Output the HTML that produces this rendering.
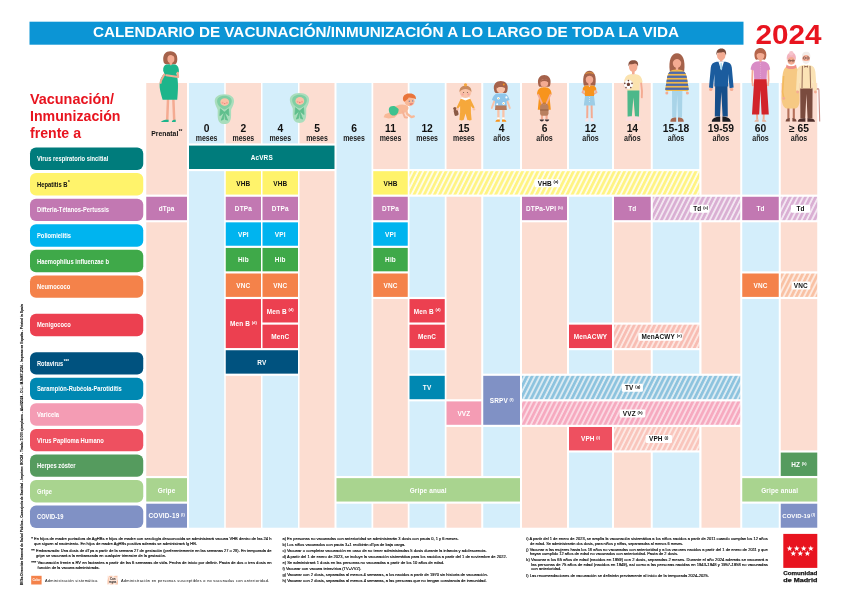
<!DOCTYPE html>
<html lang="es"><head><meta charset="utf-8"><title>Calendario de vacunación 2024</title>
<style>html,body{margin:0;padding:0;background:#fff}body{width:848px;height:604px;overflow:hidden}svg{display:block}text{font-family:"Liberation Sans", Arial, sans-serif}</style></head><body>
<svg width="848" height="604" viewBox="0 0 848 604">
<defs>
<pattern id="h_yellow" width="4.56" height="8" patternUnits="userSpaceOnUse" patternTransform="rotate(26.6)"><rect width="4.56" height="8" fill="#fffde8"/><rect width="2.65" height="8" fill="#fff482"/></pattern>
<pattern id="h_purple" width="4.56" height="8" patternUnits="userSpaceOnUse" patternTransform="rotate(26.6)"><rect width="4.56" height="8" fill="#f3e6f1"/><rect width="2.65" height="8" fill="#d9aed3"/></pattern>
<pattern id="h_orange" width="4.56" height="8" patternUnits="userSpaceOnUse" patternTransform="rotate(26.6)"><rect width="4.56" height="8" fill="#fde9df"/><rect width="2.65" height="8" fill="#f9c1a3"/></pattern>
<pattern id="h_red" width="4.56" height="8" patternUnits="userSpaceOnUse" patternTransform="rotate(26.6)"><rect width="4.56" height="8" fill="#fde6e0"/><rect width="2.65" height="8" fill="#f8bdb3"/></pattern>
<pattern id="h_tblue" width="4.56" height="8" patternUnits="userSpaceOnUse" patternTransform="rotate(26.6)"><rect width="4.56" height="8" fill="#dcebf3"/><rect width="2.65" height="8" fill="#8cc3de"/></pattern>
<pattern id="h_pink" width="4.56" height="8" patternUnits="userSpaceOnUse" patternTransform="rotate(26.6)"><rect width="4.56" height="8" fill="#fbd9e3"/><rect width="2.65" height="8" fill="#f6a9bf"/></pattern>
<pattern id="h_red2" width="4.56" height="8" patternUnits="userSpaceOnUse" patternTransform="rotate(26.6)"><rect width="4.56" height="8" fill="#fde9e4"/><rect width="2.65" height="8" fill="#f9c5bc"/></pattern>
</defs>
<rect width="848" height="604" fill="#fff"/>
<rect x="29.5" y="21.7" width="714" height="23" fill="#0c95d5"/>
<text x="386" y="37.45" font-size="14.8" font-weight="700" fill="#fff" text-anchor="middle" textLength="586" lengthAdjust="spacingAndGlyphs">CALENDARIO DE VACUNACIÓN/INMUNIZACIÓN A LO LARGO DE TODA LA VIDA</text>
<text x="755.5" y="44.2" font-size="28.4" font-weight="700" fill="#e8141f" textLength="66" lengthAdjust="spacingAndGlyphs">2024</text>
<text x="30" y="104.4" font-size="14.4" font-weight="700" fill="#e8141f" textLength="84" lengthAdjust="spacingAndGlyphs">Vacunación/</text>
<text x="30" y="121.4" font-size="14.4" font-weight="700" fill="#e8141f" textLength="90.5" lengthAdjust="spacingAndGlyphs">Inmunización</text>
<text x="30" y="138.4" font-size="14.4" font-weight="700" fill="#e8141f" textLength="51" lengthAdjust="spacingAndGlyphs">frente a</text>
<rect x="146.25" y="83.00" width="40.75" height="444.72" fill="#fcddd1"/>
<rect x="189.00" y="83.00" width="35.25" height="444.72" fill="#d4eefb"/>
<rect x="225.75" y="83.00" width="35.25" height="444.72" fill="#fcddd1"/>
<rect x="262.50" y="83.00" width="35.50" height="444.72" fill="#d4eefb"/>
<rect x="299.50" y="83.00" width="35.00" height="444.72" fill="#fcddd1"/>
<rect x="336.50" y="83.00" width="35.00" height="444.72" fill="#d4eefb"/>
<rect x="373.25" y="83.00" width="34.50" height="444.72" fill="#fcddd1"/>
<rect x="409.50" y="83.00" width="35.25" height="444.72" fill="#d4eefb"/>
<rect x="446.50" y="83.00" width="34.75" height="444.72" fill="#fcddd1"/>
<rect x="483.25" y="83.00" width="36.75" height="444.72" fill="#d4eefb"/>
<rect x="522.00" y="83.00" width="45.00" height="444.72" fill="#fcddd1"/>
<rect x="569.00" y="83.00" width="43.00" height="444.72" fill="#d4eefb"/>
<rect x="614.00" y="83.00" width="36.75" height="444.72" fill="#fcddd1"/>
<rect x="652.75" y="83.00" width="46.50" height="444.72" fill="#d4eefb"/>
<rect x="701.50" y="83.00" width="38.75" height="444.72" fill="#fcddd1"/>
<rect x="742.25" y="83.00" width="36.50" height="444.72" fill="#d4eefb"/>
<rect x="780.75" y="83.00" width="36.50" height="444.72" fill="#fcddd1"/>
<rect x="188.10" y="143.45" width="147.30" height="27.70" fill="#fff"/>
<rect x="224.85" y="169.03" width="37.05" height="27.70" fill="#fff"/>
<rect x="261.60" y="169.03" width="37.30" height="27.70" fill="#fff"/>
<rect x="372.35" y="169.03" width="36.30" height="27.70" fill="#fff"/>
<rect x="145.35" y="194.61" width="42.55" height="27.70" fill="#fff"/>
<rect x="224.85" y="194.61" width="37.05" height="27.70" fill="#fff"/>
<rect x="261.60" y="194.61" width="37.30" height="27.70" fill="#fff"/>
<rect x="372.35" y="194.61" width="36.30" height="27.70" fill="#fff"/>
<rect x="521.10" y="194.61" width="46.80" height="27.70" fill="#fff"/>
<rect x="613.10" y="194.61" width="38.55" height="27.70" fill="#fff"/>
<rect x="741.35" y="194.61" width="38.30" height="27.70" fill="#fff"/>
<rect x="224.85" y="220.19" width="37.05" height="27.70" fill="#fff"/>
<rect x="261.60" y="220.19" width="37.30" height="27.70" fill="#fff"/>
<rect x="372.35" y="220.19" width="36.30" height="27.70" fill="#fff"/>
<rect x="224.85" y="245.77" width="37.05" height="27.70" fill="#fff"/>
<rect x="261.60" y="245.77" width="37.30" height="27.70" fill="#fff"/>
<rect x="372.35" y="245.77" width="36.30" height="27.70" fill="#fff"/>
<rect x="224.85" y="271.35" width="37.05" height="27.70" fill="#fff"/>
<rect x="261.60" y="271.35" width="37.30" height="27.70" fill="#fff"/>
<rect x="372.35" y="271.35" width="36.30" height="27.70" fill="#fff"/>
<rect x="741.35" y="271.35" width="38.30" height="27.70" fill="#fff"/>
<rect x="224.85" y="296.93" width="37.05" height="53.28" fill="#fff"/>
<rect x="261.60" y="296.93" width="37.30" height="27.70" fill="#fff"/>
<rect x="261.60" y="322.51" width="37.30" height="27.70" fill="#fff"/>
<rect x="408.60" y="296.93" width="37.05" height="27.70" fill="#fff"/>
<rect x="408.60" y="322.51" width="37.05" height="27.70" fill="#fff"/>
<rect x="568.10" y="322.51" width="44.80" height="27.70" fill="#fff"/>
<rect x="224.85" y="348.09" width="74.05" height="27.70" fill="#fff"/>
<rect x="408.60" y="373.67" width="37.05" height="27.70" fill="#fff"/>
<rect x="482.35" y="373.67" width="38.55" height="53.28" fill="#fff"/>
<rect x="445.60" y="399.25" width="36.55" height="27.70" fill="#fff"/>
<rect x="568.10" y="424.83" width="44.80" height="27.70" fill="#fff"/>
<rect x="779.85" y="450.41" width="38.30" height="27.70" fill="#fff"/>
<rect x="145.35" y="475.99" width="42.55" height="27.70" fill="#fff"/>
<rect x="335.60" y="475.99" width="185.30" height="27.70" fill="#fff"/>
<rect x="741.35" y="475.99" width="76.80" height="27.70" fill="#fff"/>
<rect x="145.35" y="501.57" width="42.55" height="27.70" fill="#fff"/>
<rect x="779.85" y="501.57" width="38.30" height="27.70" fill="#fff"/>
<rect x="408.60" y="169.03" width="291.55" height="27.70" fill="#fff"/>
<rect x="651.85" y="194.61" width="89.30" height="27.70" fill="#fff"/>
<rect x="779.85" y="194.61" width="38.30" height="27.70" fill="#fff"/>
<rect x="779.85" y="271.35" width="38.30" height="27.70" fill="#fff"/>
<rect x="613.10" y="322.51" width="87.05" height="27.70" fill="#fff"/>
<rect x="521.10" y="373.67" width="220.05" height="27.70" fill="#fff"/>
<rect x="521.10" y="399.25" width="220.05" height="27.70" fill="#fff"/>
<rect x="613.10" y="424.83" width="87.05" height="27.70" fill="#fff"/>
<rect x="189.00" y="145.60" width="145.50" height="23.40" fill="#007c7c"/>
<text x="261.75" y="160.02" font-size="6.45" font-weight="700" fill="#fff" text-anchor="middle" letter-spacing="0.15">AcVRS</text>
<rect x="225.75" y="171.18" width="35.25" height="23.40" fill="#fff36b"/>
<text x="243.38" y="185.60" font-size="6.45" font-weight="700" fill="#111" text-anchor="middle" letter-spacing="0.15">VHB</text>
<rect x="262.50" y="171.18" width="35.50" height="23.40" fill="#fff36b"/>
<text x="280.25" y="185.60" font-size="6.45" font-weight="700" fill="#111" text-anchor="middle" letter-spacing="0.15">VHB</text>
<rect x="373.25" y="171.18" width="34.50" height="23.40" fill="#fff36b"/>
<text x="390.50" y="185.60" font-size="6.45" font-weight="700" fill="#111" text-anchor="middle" letter-spacing="0.15">VHB</text>
<rect x="146.25" y="196.76" width="40.75" height="23.40" fill="#c278b2"/>
<text x="166.62" y="211.18" font-size="6.45" font-weight="700" fill="#fff" text-anchor="middle" letter-spacing="0.15">dTpa</text>
<rect x="225.75" y="196.76" width="35.25" height="23.40" fill="#c278b2"/>
<text x="243.38" y="211.18" font-size="6.45" font-weight="700" fill="#fff" text-anchor="middle" letter-spacing="0.15">DTPa</text>
<rect x="262.50" y="196.76" width="35.50" height="23.40" fill="#c278b2"/>
<text x="280.25" y="211.18" font-size="6.45" font-weight="700" fill="#fff" text-anchor="middle" letter-spacing="0.15">DTPa</text>
<rect x="373.25" y="196.76" width="34.50" height="23.40" fill="#c278b2"/>
<text x="390.50" y="211.18" font-size="6.45" font-weight="700" fill="#fff" text-anchor="middle" letter-spacing="0.15">DTPa</text>
<rect x="522.00" y="196.76" width="45.00" height="23.40" fill="#c278b2"/>
<text x="544.50" y="211.18" font-size="6.45" font-weight="700" fill="#fff" text-anchor="middle" letter-spacing="0.15">DTPa-VPI<tspan font-size="4" dy="-2.1" dx="1.6" letter-spacing="0">(b)</tspan></text>
<rect x="614.00" y="196.76" width="36.75" height="23.40" fill="#c278b2"/>
<text x="632.38" y="211.18" font-size="6.45" font-weight="700" fill="#fff" text-anchor="middle" letter-spacing="0.15">Td</text>
<rect x="742.25" y="196.76" width="36.50" height="23.40" fill="#c278b2"/>
<text x="760.50" y="211.18" font-size="6.45" font-weight="700" fill="#fff" text-anchor="middle" letter-spacing="0.15">Td</text>
<rect x="225.75" y="222.34" width="35.25" height="23.40" fill="#00b4ef"/>
<text x="243.38" y="236.76" font-size="6.45" font-weight="700" fill="#fff" text-anchor="middle" letter-spacing="0.15">VPI</text>
<rect x="262.50" y="222.34" width="35.50" height="23.40" fill="#00b4ef"/>
<text x="280.25" y="236.76" font-size="6.45" font-weight="700" fill="#fff" text-anchor="middle" letter-spacing="0.15">VPI</text>
<rect x="373.25" y="222.34" width="34.50" height="23.40" fill="#00b4ef"/>
<text x="390.50" y="236.76" font-size="6.45" font-weight="700" fill="#fff" text-anchor="middle" letter-spacing="0.15">VPI</text>
<rect x="225.75" y="247.92" width="35.25" height="23.40" fill="#3fa949"/>
<text x="243.38" y="262.34" font-size="6.45" font-weight="700" fill="#fff" text-anchor="middle" letter-spacing="0.15">Hib</text>
<rect x="262.50" y="247.92" width="35.50" height="23.40" fill="#3fa949"/>
<text x="280.25" y="262.34" font-size="6.45" font-weight="700" fill="#fff" text-anchor="middle" letter-spacing="0.15">Hib</text>
<rect x="373.25" y="247.92" width="34.50" height="23.40" fill="#3fa949"/>
<text x="390.50" y="262.34" font-size="6.45" font-weight="700" fill="#fff" text-anchor="middle" letter-spacing="0.15">Hib</text>
<rect x="225.75" y="273.50" width="35.25" height="23.40" fill="#f4824a"/>
<text x="243.38" y="287.92" font-size="6.45" font-weight="700" fill="#fff" text-anchor="middle" letter-spacing="0.15">VNC</text>
<rect x="262.50" y="273.50" width="35.50" height="23.40" fill="#f4824a"/>
<text x="280.25" y="287.92" font-size="6.45" font-weight="700" fill="#fff" text-anchor="middle" letter-spacing="0.15">VNC</text>
<rect x="373.25" y="273.50" width="34.50" height="23.40" fill="#f4824a"/>
<text x="390.50" y="287.92" font-size="6.45" font-weight="700" fill="#fff" text-anchor="middle" letter-spacing="0.15">VNC</text>
<rect x="742.25" y="273.50" width="36.50" height="23.40" fill="#f4824a"/>
<text x="760.50" y="287.92" font-size="6.45" font-weight="700" fill="#fff" text-anchor="middle" letter-spacing="0.15">VNC</text>
<rect x="225.75" y="299.08" width="35.25" height="48.98" fill="#ec4050"/>
<text x="243.38" y="326.29" font-size="6.45" font-weight="700" fill="#fff" text-anchor="middle" letter-spacing="0.15">Men B<tspan font-size="4" dy="-2.1" dx="1.6" letter-spacing="0">(d)</tspan></text>
<rect x="262.50" y="299.08" width="35.50" height="23.40" fill="#ec4050"/>
<text x="280.25" y="313.50" font-size="6.45" font-weight="700" fill="#fff" text-anchor="middle" letter-spacing="0.15">Men B<tspan font-size="4" dy="-2.1" dx="1.6" letter-spacing="0">(d)</tspan></text>
<rect x="262.50" y="324.66" width="35.50" height="23.40" fill="#ec4050"/>
<text x="280.25" y="339.08" font-size="6.45" font-weight="700" fill="#fff" text-anchor="middle" letter-spacing="0.15">MenC</text>
<rect x="409.50" y="299.08" width="35.25" height="23.40" fill="#ec4050"/>
<text x="427.12" y="313.50" font-size="6.45" font-weight="700" fill="#fff" text-anchor="middle" letter-spacing="0.15">Men B<tspan font-size="4" dy="-2.1" dx="1.6" letter-spacing="0">(d)</tspan></text>
<rect x="409.50" y="324.66" width="35.25" height="23.40" fill="#ec4050"/>
<text x="427.12" y="339.08" font-size="6.45" font-weight="700" fill="#fff" text-anchor="middle" letter-spacing="0.15">MenC</text>
<rect x="569.00" y="324.66" width="43.00" height="23.40" fill="#ec4050"/>
<text x="590.50" y="339.08" font-size="6.45" font-weight="700" fill="#fff" text-anchor="middle" letter-spacing="0.15">MenACWY</text>
<rect x="225.75" y="350.24" width="72.25" height="23.40" fill="#00527f"/>
<text x="261.88" y="364.66" font-size="6.45" font-weight="700" fill="#fff" text-anchor="middle" letter-spacing="0.15">RV</text>
<rect x="409.50" y="375.82" width="35.25" height="23.40" fill="#0088b2"/>
<text x="427.12" y="390.24" font-size="6.45" font-weight="700" fill="#fff" text-anchor="middle" letter-spacing="0.15">TV</text>
<rect x="483.25" y="375.82" width="36.75" height="48.98" fill="#8091c5"/>
<text x="501.62" y="403.03" font-size="6.45" font-weight="700" fill="#fff" text-anchor="middle" letter-spacing="0.15">SRPV<tspan font-size="4" dy="-2.1" dx="1.6" letter-spacing="0">(f)</tspan></text>
<rect x="446.50" y="401.40" width="34.75" height="23.40" fill="#f49cb4"/>
<text x="463.88" y="415.82" font-size="6.45" font-weight="700" fill="#fff" text-anchor="middle" letter-spacing="0.15">VVZ</text>
<rect x="569.00" y="426.98" width="43.00" height="23.40" fill="#ee5060"/>
<text x="590.50" y="441.40" font-size="6.45" font-weight="700" fill="#fff" text-anchor="middle" letter-spacing="0.15">VPH<tspan font-size="4" dy="-2.1" dx="1.6" letter-spacing="0">(i)</tspan></text>
<rect x="780.75" y="452.56" width="36.50" height="23.40" fill="#559b5e"/>
<text x="799.00" y="466.98" font-size="6.45" font-weight="700" fill="#fff" text-anchor="middle" letter-spacing="0.15">HZ<tspan font-size="4" dy="-2.1" dx="1.6" letter-spacing="0">(k)</tspan></text>
<rect x="146.25" y="478.14" width="40.75" height="23.40" fill="#a9d48f"/>
<text x="166.62" y="492.56" font-size="6.45" font-weight="700" fill="#fff" text-anchor="middle" letter-spacing="0.15">Gripe</text>
<rect x="336.50" y="478.14" width="183.50" height="23.40" fill="#a9d48f"/>
<text x="428.25" y="492.56" font-size="6.45" font-weight="700" fill="#fff" text-anchor="middle" letter-spacing="0.15">Gripe anual</text>
<rect x="742.25" y="478.14" width="75.00" height="23.40" fill="#a9d48f"/>
<text x="779.75" y="492.56" font-size="6.45" font-weight="700" fill="#fff" text-anchor="middle" letter-spacing="0.15">Gripe anual</text>
<rect x="146.25" y="503.72" width="40.75" height="24.00" fill="#8091c5"/>
<text x="166.62" y="518.44" font-size="6.45" font-weight="700" fill="#fff" text-anchor="middle" letter-spacing="0.15">COVID-19<tspan font-size="4" dy="-2.1" dx="1.6" letter-spacing="0">(l)</tspan></text>
<rect x="780.75" y="503.72" width="36.50" height="24.00" fill="#8091c5"/>
<text x="798.70" y="518.28" font-size="6.00" font-weight="700" fill="#fff" text-anchor="middle" letter-spacing="0.05">COVID-19<tspan font-size="4" dy="-2.1" dx="1.0" letter-spacing="0">(l)</tspan></text>
<rect x="409.50" y="171.18" width="289.75" height="23.40" fill="url(#h_yellow)"/>
<rect x="534.50" y="179.18" width="25.50" height="8" rx="1.3" fill="#fff"/>
<text x="537.70" y="185.50" font-size="6.45" font-weight="700" fill="#111" letter-spacing="0.15">VHB<tspan font-size="4" dy="-2.1" dx="1.8" letter-spacing="0">(a)</tspan></text>
<rect x="652.75" y="196.76" width="87.50" height="23.40" fill="url(#h_purple)"/>
<rect x="690.00" y="204.76" width="19.00" height="8" rx="1.3" fill="#fff"/>
<text x="693.20" y="211.08" font-size="6.45" font-weight="700" fill="#111" letter-spacing="0.15">Td<tspan font-size="4" dy="-2.1" dx="1.8" letter-spacing="0">(c)</tspan></text>
<rect x="780.75" y="196.76" width="36.50" height="23.40" fill="url(#h_purple)"/>
<rect x="791.00" y="204.76" width="19.25" height="8" rx="1.3" fill="#fff"/>
<text x="800.62" y="211.08" font-size="6.45" font-weight="700" fill="#111" text-anchor="middle" letter-spacing="0.15">Td</text>
<rect x="780.75" y="273.50" width="36.50" height="23.40" fill="url(#h_orange)"/>
<rect x="791.50" y="281.50" width="18.75" height="8" rx="1.3" fill="#fff"/>
<text x="800.88" y="287.82" font-size="6.45" font-weight="700" fill="#111" text-anchor="middle" letter-spacing="0.15">VNC</text>
<rect x="614.00" y="324.66" width="85.25" height="23.40" fill="url(#h_red)"/>
<rect x="638.25" y="332.66" width="44.25" height="8" rx="1.3" fill="#fff"/>
<text x="641.45" y="338.98" font-size="6.45" font-weight="700" fill="#111" letter-spacing="0.15">MenACWY<tspan font-size="4" dy="-2.1" dx="1.8" letter-spacing="0">(e)</tspan></text>
<rect x="522.00" y="375.82" width="218.25" height="23.40" fill="url(#h_tblue)"/>
<rect x="621.80" y="383.82" width="21.10" height="8" rx="1.3" fill="#fff"/>
<text x="625.00" y="390.14" font-size="6.45" font-weight="700" fill="#111" letter-spacing="0.15">TV<tspan font-size="4" dy="-2.1" dx="1.8" letter-spacing="0">(g)</tspan></text>
<rect x="522.00" y="401.40" width="218.25" height="23.40" fill="url(#h_pink)"/>
<rect x="619.60" y="409.40" width="25.80" height="8" rx="1.3" fill="#fff"/>
<text x="622.80" y="415.72" font-size="6.45" font-weight="700" fill="#111" letter-spacing="0.15">VVZ<tspan font-size="4" dy="-2.1" dx="1.8" letter-spacing="0">(h)</tspan></text>
<rect x="614.00" y="426.98" width="85.25" height="23.40" fill="url(#h_red2)"/>
<rect x="645.75" y="434.98" width="26.25" height="8" rx="1.3" fill="#fff"/>
<text x="648.95" y="441.30" font-size="6.45" font-weight="700" fill="#111" letter-spacing="0.15">VPH<tspan font-size="4" dy="-2.1" dx="1.8" letter-spacing="0">(j)</tspan></text>
<rect x="30" y="147.50" width="113.25" height="22.4" rx="6" fill="#007c7c"/>
<text x="37" y="161.20" font-size="7.7" font-weight="700" fill="#fff" textLength="71.25" lengthAdjust="spacingAndGlyphs">Virus respiratorio sincitial</text>
<rect x="30" y="173.08" width="113.25" height="22.4" rx="6" fill="#fff36b"/>
<text x="37" y="186.78" font-size="7.7" font-weight="700" fill="#111" textLength="30.5" lengthAdjust="spacingAndGlyphs">Hepatitis B</text>
<text x="67.90" y="184.08" font-size="4.5" font-weight="700" fill="#111">*</text>
<rect x="30" y="198.66" width="113.25" height="22.4" rx="6" fill="#c278b2"/>
<text x="37" y="212.36" font-size="7.7" font-weight="700" fill="#fff" textLength="72" lengthAdjust="spacingAndGlyphs">Difteria-Tétanos-Pertussis</text>
<rect x="30" y="224.24" width="113.25" height="22.4" rx="6" fill="#00b4ef"/>
<text x="37" y="237.94" font-size="7.7" font-weight="700" fill="#fff" textLength="34" lengthAdjust="spacingAndGlyphs">Poliomielitis</text>
<rect x="30" y="249.82" width="113.25" height="22.4" rx="6" fill="#3fa949"/>
<text x="37" y="263.52" font-size="7.7" font-weight="700" fill="#fff" textLength="72" lengthAdjust="spacingAndGlyphs">Haemophilus influenzae b</text>
<rect x="30" y="275.40" width="113.25" height="22.4" rx="6" fill="#f4824a"/>
<text x="37" y="289.10" font-size="7.7" font-weight="700" fill="#fff" textLength="33.25" lengthAdjust="spacingAndGlyphs">Neumococo</text>
<rect x="30" y="313.77" width="113.25" height="22.4" rx="6" fill="#ec4050"/>
<text x="37" y="327.47" font-size="7.7" font-weight="700" fill="#fff" textLength="33.75" lengthAdjust="spacingAndGlyphs">Menigococo</text>
<rect x="30" y="352.14" width="113.25" height="22.4" rx="6" fill="#00527f"/>
<text x="37" y="365.84" font-size="7.7" font-weight="700" fill="#fff" textLength="26.25" lengthAdjust="spacingAndGlyphs">Rotavirus</text>
<text x="63.65" y="363.14" font-size="4.5" font-weight="700" fill="#fff">***</text>
<rect x="30" y="377.72" width="113.25" height="22.4" rx="6" fill="#0088b2"/>
<text x="37" y="391.42" font-size="7.7" font-weight="700" fill="#fff" textLength="84.75" lengthAdjust="spacingAndGlyphs">Sarampión-Rubéola-Parotiditis</text>
<rect x="30" y="403.30" width="113.25" height="22.4" rx="6" fill="#f49cb4"/>
<text x="37" y="417.00" font-size="7.7" font-weight="700" fill="#fff" textLength="22" lengthAdjust="spacingAndGlyphs">Varicela</text>
<rect x="30" y="428.88" width="113.25" height="22.4" rx="6" fill="#ee5060"/>
<text x="37" y="442.58" font-size="7.7" font-weight="700" fill="#fff" textLength="66.75" lengthAdjust="spacingAndGlyphs">Virus Papiloma Humano</text>
<rect x="30" y="454.46" width="113.25" height="22.4" rx="6" fill="#559b5e"/>
<text x="37" y="468.16" font-size="7.7" font-weight="700" fill="#fff" textLength="38.5" lengthAdjust="spacingAndGlyphs">Herpes zóster</text>
<rect x="30" y="480.04" width="113.25" height="22.4" rx="6" fill="#a9d48f"/>
<text x="37" y="493.74" font-size="7.7" font-weight="700" fill="#fff" textLength="15" lengthAdjust="spacingAndGlyphs">Gripe</text>
<rect x="30" y="505.62" width="113.25" height="22.4" rx="6" fill="#8091c5"/>
<text x="37" y="519.32" font-size="7.7" font-weight="700" fill="#fff" textLength="26.5" lengthAdjust="spacingAndGlyphs">COVID-19</text>
<text x="206.62" y="132" font-size="10.3" font-weight="700" fill="#111" text-anchor="middle">0</text>
<text x="195.78" y="141.15" font-size="8.8" font-weight="700" fill="#222" textLength="21.7" lengthAdjust="spacingAndGlyphs">meses</text>
<text x="243.38" y="132" font-size="10.3" font-weight="700" fill="#111" text-anchor="middle">2</text>
<text x="232.53" y="141.15" font-size="8.8" font-weight="700" fill="#222" textLength="21.7" lengthAdjust="spacingAndGlyphs">meses</text>
<text x="280.25" y="132" font-size="10.3" font-weight="700" fill="#111" text-anchor="middle">4</text>
<text x="269.40" y="141.15" font-size="8.8" font-weight="700" fill="#222" textLength="21.7" lengthAdjust="spacingAndGlyphs">meses</text>
<text x="317.00" y="132" font-size="10.3" font-weight="700" fill="#111" text-anchor="middle">5</text>
<text x="306.15" y="141.15" font-size="8.8" font-weight="700" fill="#222" textLength="21.7" lengthAdjust="spacingAndGlyphs">meses</text>
<text x="354.00" y="132" font-size="10.3" font-weight="700" fill="#111" text-anchor="middle">6</text>
<text x="343.15" y="141.15" font-size="8.8" font-weight="700" fill="#222" textLength="21.7" lengthAdjust="spacingAndGlyphs">meses</text>
<text x="390.50" y="132" font-size="10.3" font-weight="700" fill="#111" text-anchor="middle">11</text>
<text x="379.65" y="141.15" font-size="8.8" font-weight="700" fill="#222" textLength="21.7" lengthAdjust="spacingAndGlyphs">meses</text>
<text x="427.12" y="132" font-size="10.3" font-weight="700" fill="#111" text-anchor="middle">12</text>
<text x="416.27" y="141.15" font-size="8.8" font-weight="700" fill="#222" textLength="21.7" lengthAdjust="spacingAndGlyphs">meses</text>
<text x="463.88" y="132" font-size="10.3" font-weight="700" fill="#111" text-anchor="middle">15</text>
<text x="453.02" y="141.15" font-size="8.8" font-weight="700" fill="#222" textLength="21.7" lengthAdjust="spacingAndGlyphs">meses</text>
<text x="501.62" y="132" font-size="10.3" font-weight="700" fill="#111" text-anchor="middle">4</text>
<text x="493.32" y="141.15" font-size="8.8" font-weight="700" fill="#222" textLength="16.6" lengthAdjust="spacingAndGlyphs">años</text>
<text x="544.50" y="132" font-size="10.3" font-weight="700" fill="#111" text-anchor="middle">6</text>
<text x="536.20" y="141.15" font-size="8.8" font-weight="700" fill="#222" textLength="16.6" lengthAdjust="spacingAndGlyphs">años</text>
<text x="590.50" y="132" font-size="10.3" font-weight="700" fill="#111" text-anchor="middle">12</text>
<text x="582.20" y="141.15" font-size="8.8" font-weight="700" fill="#222" textLength="16.6" lengthAdjust="spacingAndGlyphs">años</text>
<text x="632.38" y="132" font-size="10.3" font-weight="700" fill="#111" text-anchor="middle">14</text>
<text x="624.08" y="141.15" font-size="8.8" font-weight="700" fill="#222" textLength="16.6" lengthAdjust="spacingAndGlyphs">años</text>
<text x="676.00" y="132" font-size="10.3" font-weight="700" fill="#111" text-anchor="middle">15-18</text>
<text x="667.70" y="141.15" font-size="8.8" font-weight="700" fill="#222" textLength="16.6" lengthAdjust="spacingAndGlyphs">años</text>
<text x="720.88" y="132" font-size="10.3" font-weight="700" fill="#111" text-anchor="middle">19-59</text>
<text x="712.58" y="141.15" font-size="8.8" font-weight="700" fill="#222" textLength="16.6" lengthAdjust="spacingAndGlyphs">años</text>
<text x="760.50" y="132" font-size="10.3" font-weight="700" fill="#111" text-anchor="middle">60</text>
<text x="752.20" y="141.15" font-size="8.8" font-weight="700" fill="#222" textLength="16.6" lengthAdjust="spacingAndGlyphs">años</text>
<text x="799.00" y="132" font-size="10.3" font-weight="700" fill="#111" text-anchor="middle">≥ 65</text>
<text x="790.70" y="141.15" font-size="8.8" font-weight="700" fill="#222" textLength="16.6" lengthAdjust="spacingAndGlyphs">años</text>
<text x="151.3" y="135.6" font-size="8.1" font-weight="700" fill="#111" textLength="27" lengthAdjust="spacingAndGlyphs">Prenatal</text>
<text x="178.7" y="133.4" font-size="4.6" font-weight="700" fill="#111">**</text>
<g id="fig-prenatal">
<path d="M170.3,51.2 C175.5,51.2 177.6,55 177.3,59.5 C177.2,62.5 176.3,64.2 174.5,64.2 L166,64.2 C164,64.2 163.2,62 163.2,59 C163.2,54.5 165.5,51.2 170.3,51.2Z" fill="#a5624b"/>
<ellipse cx="170.9" cy="59" rx="3.5" ry="4.1" fill="#f4ab92"/>
<path d="M166.6,58 C167,54.5 170,53.5 174.6,56.5 C174,53 171.5,52.3 170,52.3 C167,52.3 166,55 166.6,58Z" fill="#a5624b"/>
<rect x="169.6" y="62" width="2.6" height="3.4" fill="#f4ab92"/>
<path d="M168,100 L167.2,120.2 M173.4,100 L174.2,120.2" stroke="#f4ab92" stroke-width="2.5" stroke-linecap="round" fill="none"/>
<path d="M166.3,64.6 L169.6,64.3 L170.9,65.6 L172.2,64.3 L175.3,64.6 C178.3,65.6 179.2,69 178.9,72.6 L176.4,73 C178.6,81 178.2,90 177.2,99.8 L162.6,99.8 C160.6,93 159.4,88.5 159.6,84.5 C159.8,79.5 161.8,75.8 164.4,73.6 L163.2,71 C162.9,67.5 164,65.4 166.3,64.6Z" fill="#1db58b"/>
<path d="M177.7,72.8 L178.1,77 L166.3,75.2" stroke="#f4ab92" stroke-width="2.1" stroke-linecap="round" stroke-linejoin="round" fill="none"/>
<path d="M164.2,74.6 L161,80.4 L160.6,82.8" stroke="#f4ab92" stroke-width="2" stroke-linecap="round" stroke-linejoin="round" fill="none"/>
<path d="M160.8,122 C162.5,119.7 165.5,119.6 168.6,119.7 L168.6,122Z M171.8,122 C172,120 173.5,119.7 175.7,119.7 L175.7,122Z" fill="#1db58b"/>
</g>
<g transform="translate(224.40,94.20)"><path d="M0,0 C6.6,0 10.1,3.2 9.6,7.7 C9.2,11.5 7,13.6 6.7,15.7 C6.7,21.7 7.1,25.7 4.6,28.2 C2.6,30.3 -2.6,30.3 -4.6,28.2 C-7.1,25.7 -6.7,21.7 -6.7,15.7 C-7,13.6 -9.2,11.5 -9.6,7.7 C-10.1,3.2 -6.6,0 0,0Z" fill="#a9ddbc"/><path d="M0,1.6 C4.8,1.6 7.6,4 7.3,7.6 C7,11 3.5,14.5 0,15.2 C-3.5,14.5 -7,11 -7.3,7.6 C-7.6,4 -4.8,1.6 0,1.6Z" fill="#7fcfa3"/><ellipse cx="0.3" cy="7.9" rx="4.4" ry="3.9" fill="#f9c3a8"/><circle cx="-1.9" cy="8.6" r="1" fill="#f7a392"/><circle cx="2.5" cy="8.6" r="1" fill="#f7a392"/><ellipse cx="0.3" cy="9.4" rx="0.9" ry="0.7" fill="#ef7f7a"/><path d="M0,18 L-4,14.6 L-4.6,21.5Z M0,18 L4,14.6 L4.6,21.5Z M0,18 L-3.2,26 L-1,25.2Z M0,18 L3.2,26 L1,25.2Z" fill="#5fbf8d" stroke="#5fbf8d" stroke-width="0.8" stroke-linejoin="round"/></g>
<g transform="translate(299.50,93.10)"><path d="M0,0 C6.6,0 10.1,3.2 9.6,7.7 C9.2,11.5 7,13.6 6.7,15.7 C6.7,21.7 7.1,25.7 4.6,28.2 C2.6,30.3 -2.6,30.3 -4.6,28.2 C-7.1,25.7 -6.7,21.7 -6.7,15.7 C-7,13.6 -9.2,11.5 -9.6,7.7 C-10.1,3.2 -6.6,0 0,0Z" fill="#a9ddbc"/><path d="M0,1.6 C4.8,1.6 7.6,4 7.3,7.6 C7,11 3.5,14.5 0,15.2 C-3.5,14.5 -7,11 -7.3,7.6 C-7.6,4 -4.8,1.6 0,1.6Z" fill="#7fcfa3"/><ellipse cx="0.3" cy="7.9" rx="4.4" ry="3.9" fill="#f9c3a8"/><circle cx="-1.9" cy="8.6" r="1" fill="#f7a392"/><circle cx="2.5" cy="8.6" r="1" fill="#f7a392"/><ellipse cx="0.3" cy="9.4" rx="0.9" ry="0.7" fill="#ef7f7a"/><path d="M0,18 L-4,14.6 L-4.6,21.5Z M0,18 L4,14.6 L4.6,21.5Z M0,18 L-3.2,26 L-1,25.2Z M0,18 L3.2,26 L1,25.2Z" fill="#5fbf8d" stroke="#5fbf8d" stroke-width="0.8" stroke-linejoin="round"/></g>
<g id="fig-11m">
<path d="M391,112 L385,114.2 L383.6,117.3 L388.5,118.6 L394.5,117.8 L398,114Z" fill="#f8b998"/>
<ellipse cx="400.5" cy="109.3" rx="8.2" ry="4.6" transform="rotate(-12 400.5 109.3)" fill="#f8b998"/>
<path d="M388.8,109.5 C388.8,106.5 392,105.6 395,106.3 L398.6,109 C398.8,112.5 397,115.6 393.5,115.6 C390.5,115.6 388.8,112.5 388.8,109.5Z" fill="#3dc28f"/>
<path d="M405.5,108.5 L407.2,114 L411.5,117.2 L413.8,116.4" stroke="#f8b998" stroke-width="2.3" stroke-linecap="round" stroke-linejoin="round" fill="none"/>
<path d="M402.5,111.5 L404.8,117.2 L407,117.6" stroke="#f6b396" stroke-width="2" stroke-linecap="round" stroke-linejoin="round" fill="none"/>
<circle cx="409.6" cy="101.2" r="5" fill="#f8b998"/>
<path d="M403,99.6 C402.4,95.5 406,93.2 409.5,93.5 C413.5,93.2 416.6,96 415.8,99.3 C413.8,97.6 411,97.8 408.8,97.4 C407.6,99.4 405.6,100.8 404.4,101.8 C403.6,101.4 403.1,100.6 403,99.6Z" fill="#e9743a"/>
<circle cx="409.3" cy="101.2" r="0.6" fill="#5b6fa8"/><circle cx="412.7" cy="100.9" r="0.6" fill="#5b6fa8"/>
<path d="M409.2,103.7 C410.4,104.9 412.2,104.8 413.2,103.5Z" fill="#d9454b"/>
</g>
<g id="fig-15m">
<rect x="454" y="109.2" width="4.2" height="6.6" rx="1.6" transform="rotate(-14 456 112.5)" fill="#8b5a44"/>
<circle cx="454.9" cy="108.6" r="1.7" fill="#8b5a44"/>
<path d="M460.6,99 C461.6,97.6 469.4,97.6 470.4,99 L474.6,107.6 L473.2,108.8 L470.9,106 L470.9,112.5 L471.6,119.6 C471.6,120.8 467.6,120.8 467.2,119.6 L465.5,113.5 L463.8,119.6 C463.4,120.8 459.4,120.8 459.4,119.6 L460.1,112.5 L460.1,106 L458,108.8 L456.6,107.6Z" fill="#f6a83b"/>
<circle cx="457.3" cy="109.2" r="1.2" fill="#f9c3a8"/><circle cx="474" cy="109.2" r="1.2" fill="#f9c3a8"/>
<path d="M460.6,98.6 L465.5,100.4 L470.4,98.6 L469,97.4 L462,97.4Z" fill="#fff"/>
<circle cx="465.5" cy="92" r="5.9" fill="#f9c3a8"/>
<path d="M459.6,92 C459.1,87.6 462.3,85.8 465.5,85.8 C468.7,85.8 471.9,87.6 471.4,92 C469.8,89.8 467.6,89 465.5,89 C463.4,89 461.2,89.8 459.6,92Z" fill="#c98a5e"/>
<circle cx="465.5" cy="84.8" r="1.6" fill="#f6a83b"/>
<circle cx="462.6" cy="94.4" r="1.1" fill="#f7a6a0"/><circle cx="468.4" cy="94.4" r="1.1" fill="#f7a6a0"/>
<circle cx="463.6" cy="92.6" r="0.5" fill="#6b4a3e"/><circle cx="467.4" cy="92.6" r="0.5" fill="#6b4a3e"/>
</g>
<g id="fig-4a">
<path d="M494.2,90.5 C492.6,84 496.5,81 500.8,81 C505.1,81 509,84 507.4,90.5 C507,92.6 505.8,93.2 504.6,93 L497,93 C495.8,93.2 494.6,92.6 494.2,90.5Z" fill="#a5624b"/>
<ellipse cx="500.8" cy="89" rx="4.3" ry="4.2" fill="#f9c3a8"/>
<path d="M496.4,88.6 C496.6,85 499,84 504.6,84.4 C505.4,85.6 505.4,87 505.2,88 C503,87 499,86 496.4,88.6Z" fill="#a5624b"/>
<circle cx="503.8" cy="84.6" r="1" fill="#f7941d"/>
<path d="M498.4,110 L498.4,119 M503.4,110 L503.4,119" stroke="#f9c3a8" stroke-width="2.3" fill="none"/>
<path d="M496.5,95.4 L493,104.6 L491.8,108 M505.1,95.4 L508.6,104.6 L509.8,108" stroke="#f9c3a8" stroke-width="1.9" stroke-linecap="round" stroke-linejoin="round" fill="none"/>
<path d="M497,93.6 L504.6,93.6 C507.4,94.2 509,97.5 509.6,100 L506.6,101 L506.8,106.6 L494.8,106.6 L495,101 L492,100 C492.6,97.5 494.2,94.2 497,93.6Z" fill="#8fc6ea"/>
<circle cx="498.4" cy="98.2" r="1.3" fill="#fff"/><circle cx="503.6" cy="103.4" r="1.3" fill="#fff"/><circle cx="506.4" cy="97.4" r="1.1" fill="#fff"/><circle cx="497.2" cy="104.2" r="1" fill="#fff"/><circle cx="498.4" cy="98.2" r="0.5" fill="#f6c24c"/><circle cx="503.6" cy="103.4" r="0.5" fill="#f6c24c"/>
<path d="M495.4,105.6 L506.4,105.6 L506.8,110 L495,110Z" fill="#b67a5c"/>
<rect x="497.2" y="117.4" width="2.4" height="2.2" fill="#fff"/><rect x="502.2" y="117.4" width="2.4" height="2.2" fill="#fff"/>
<path d="M495.4,121.7 C495.6,119.8 497.6,119.4 499.8,119.6 L499.8,121.7Z M502,121.7 L502,119.6 C504.2,119.4 506.2,119.8 506.4,121.7Z" fill="#f7941d"/>
</g>
<g id="fig-6a">
<path d="M538.2,84 C537,78 540.6,75 544.3,75 C548,75 551.6,78 550.4,84 C550.2,86 549.4,86.8 548.4,86.8 L540.2,86.8 C539.2,86.8 538.4,86 538.2,84Z" fill="#a5624b"/>
<ellipse cx="544.3" cy="83" rx="3.9" ry="3.9" fill="#f4ab92"/>
<path d="M540.3,82.4 C540.8,79 543.4,78.2 548.2,79.4 C548.6,80.6 548.5,81.6 548.4,82.4 C546,80.8 542.8,80.6 540.3,82.4Z" fill="#a5624b"/>
<path d="M542,110 L542,119.4 M546.6,110 L546.6,119.4" stroke="#f4ab92" stroke-width="2.1" fill="none"/>
<path d="M540.8,87.8 C542,87 546.6,87 547.8,87.8 C550.4,88.6 551.6,91.4 551.6,94.6 L549.4,95.2 L550.8,109.8 L537.8,109.8 L539.2,95.2 L537,94.6 C537,91.4 538.2,88.6 540.8,87.8Z" fill="#f7941d"/>
<path d="M538.2,94.6 L542.6,104.6 M550.4,94.6 L546,104.6" stroke="#f4ab92" stroke-width="1.7" stroke-linecap="round" fill="none"/>
<rect x="540.1" y="104.2" width="8.4" height="11.6" rx="2.2" fill="#b9805f"/>
<rect x="540.1" y="109.4" width="8.4" height="1.2" fill="#9a6447"/>
<path d="M542.2,104.6 C542.2,102.6 546.4,102.6 546.4,104.6" stroke="#9a6447" stroke-width="0.8" fill="none"/>
<path d="M539.6,119.6 C540,122.2 543.6,122.2 544,119.6Z M544.8,119.6 C545.2,122.2 548.8,122.2 549.2,119.6Z" fill="#3b3135"/>
</g>
<g id="fig-12a">
<path d="M583.6,84.8 C582.2,76 584.8,70.7 589.5,70.7 C594.2,70.7 596.8,76 595.4,84.8 C595.2,85.8 594,86 593.4,85.4 L585.6,85.4 C585,86 583.8,85.8 583.6,84.8Z" fill="#a5624b"/>
<ellipse cx="589.5" cy="79.2" rx="3.7" ry="4.3" fill="#f4ab92"/>
<path d="M585.6,78.4 C585.8,74.6 587.6,73.4 589.5,73.4 C591.4,73.4 593.2,74.6 593.4,78.4 C592,76.4 590.8,75.8 589.5,75.8 C588.2,75.8 587,76.4 585.6,78.4Z" fill="#a5624b"/>
<path d="M585.4,73.6 C586.6,72.4 592.4,72.4 593.6,73.6" stroke="#f6a83b" stroke-width="0.8" fill="none"/>
<rect x="588.4" y="82.6" width="2.2" height="3.4" fill="#f4ab92"/>
<path d="M587.4,105 L587.2,118.4 M591.6,105 L591.8,118.4" stroke="#f4ab92" stroke-width="2" fill="none"/>
<path d="M585.2,87 L582.4,92.4 L585.6,94.4 M593.8,87 L596.6,92.4 L593.4,94.4" stroke="#f4ab92" stroke-width="1.7" stroke-linecap="round" stroke-linejoin="round" fill="none"/>
<path d="M586,85.6 L588.4,85.4 L589.5,87 L590.6,85.4 L593,85.6 C595,86 596.2,87.6 596.4,89.6 L594.4,90.4 L594,96.4 L585,96.4 L584.6,90.4 L582.6,89.6 C582.8,87.6 584,86 586,85.6Z" fill="#f7941d"/>
<path d="M585,96 L594,96 L595.2,105.6 L583.8,105.6Z" fill="#9dcde6"/>
<path d="M589.5,97 L589.5,103" stroke="#fff" stroke-width="0.6" stroke-dasharray="0.8 1.2" fill="none"/>
<path d="M585,121.6 C585,119 586.4,118 588.4,118 L588.4,121.6Z M590.6,121.6 L590.6,118 C592.6,118 594,119 594,121.6Z" fill="#fbe3e6"/>
</g>
<g id="fig-14a">
<ellipse cx="633.2" cy="67" rx="4.2" ry="4.9" fill="#f4ab92"/>
<path d="M628.6,66.6 C627.8,62 630,60.2 633.4,60.2 C636.8,60.2 638.8,62 638,66.6 C637.2,64.6 636.4,63.8 635,63.6 C632.6,64.4 630.4,64.2 629.4,64.4 C629,65 628.8,65.8 628.6,66.6Z" fill="#8a5240"/>
<rect x="632" y="71" width="2.6" height="3.6" fill="#f4ab92"/>
<path d="M641,82 L642,91 L641.8,97.4" stroke="#f4ab92" stroke-width="1.9" stroke-linecap="round" stroke-linejoin="round" fill="none"/>
<path d="M625.4,81.6 L624.6,86 L627.4,88.6" stroke="#f4ab92" stroke-width="1.9" stroke-linecap="round" stroke-linejoin="round" fill="none"/>
<path d="M629.6,74.4 L632,74 L633.3,75.2 L634.6,74 L637,74.4 C640,75 642.2,77.4 642.6,82.4 L639.6,83 L639.4,91 L627.4,91 L627.2,83 L624,82.4 C624.4,77.4 626.6,75 629.6,74.4Z" fill="#fbe3af"/>
<path d="M627.4,90.6 L639.4,90.6 L639,116.4 L635,116.4 L633.4,97.5 L631.8,116.4 L627.6,116.4Z" fill="#4db88a"/>
<circle cx="628.4" cy="84.4" r="4.6" fill="#fff" stroke="#e6ddd8" stroke-width="0.4"/>
<path d="M628.4,82.4 L630.2,83.8 L629.5,85.9 L627.3,85.9 L626.6,83.8Z" fill="#6d3f34"/>
<circle cx="628.4" cy="80.6" r="0.8" fill="#6d3f34"/><circle cx="632" cy="83.4" r="0.8" fill="#6d3f34"/><circle cx="630.8" cy="87.6" r="0.8" fill="#6d3f34"/><circle cx="626" cy="87.6" r="0.8" fill="#6d3f34"/><circle cx="624.8" cy="83.4" r="0.8" fill="#6d3f34"/>
<path d="M625.6,120.8 C625.8,117.6 628,116.4 632.2,116.4 L632.2,120.8Z M634.6,120.8 L634.6,116.4 C638.4,116.4 640.6,117.6 640.8,120.8Z" fill="#fbdbe2"/>
</g>
<g id="fig-1518">
<path d="M669.8,71 C668.4,60 671.4,53.2 677,53.2 C682.6,53.2 685.6,60 684.2,71 C683.6,72.4 682,72 681.4,71 L672.6,71 C672,72 670.4,72.4 669.8,71Z" fill="#a5624b"/>
<ellipse cx="677" cy="63" rx="4.2" ry="5" fill="#f4ab92"/>
<path d="M672.6,62.4 C672.6,57.6 675,56.4 677,56.4 C679,56.4 681.4,57.6 681.4,62.4 C680,59.8 678.6,59 677,59 C675.4,59 674,59.8 672.6,62.4Z" fill="#a5624b"/>
<rect x="675.8" y="67" width="2.4" height="3.6" fill="#f4ab92"/>
<path d="M672,90.6 L682.4,90.6 L682,117.6 L678,117.6 L677.2,95 L676.2,117.6 L672.2,117.6Z" fill="#a9d4e8"/>
<circle cx="666.8" cy="93" r="1.5" fill="#f4ab92"/><circle cx="687.4" cy="93" r="1.5" fill="#f4ab92"/>
<clipPath id="swc"><path d="M672.6,70 L675.6,69.6 L677,70.6 L678.4,69.6 L681.4,70 C685,71 686.4,74 687,78 L688.8,89.6 C688.8,91.2 686.4,91.6 685.4,91 L668.6,91 C667.6,91.6 665.2,91.2 665.2,89.6 L667,78 C667.6,74 669,71 672.6,70Z"/></clipPath>
<g clip-path="url(#swc)"><rect x="664" y="69" width="26" height="23" fill="#f3b94a"/>
<rect x="664" y="71.6" width="26" height="2.3" fill="#4a6aae"/>
<rect x="664" y="75.6" width="26" height="2.3" fill="#4a6aae"/>
<rect x="664" y="79.6" width="26" height="2.3" fill="#4a6aae"/>
<rect x="664" y="83.6" width="26" height="2.3" fill="#4a6aae"/>
<rect x="664" y="87.6" width="26" height="2.3" fill="#4a6aae"/>
</g>
<path d="M670.4,121.7 C670.4,119 672,117.6 676.2,117.6 L676.2,121.7Z M678,121.7 L678,117.6 C682,117.6 683.8,119 683.8,121.7Z" fill="#a86a52"/>
</g>
<g id="fig-1959">
<ellipse cx="721.2" cy="55.6" rx="4.2" ry="4.9" fill="#f4ab92"/>
<path d="M716.6,55.4 C715.8,50.6 718,48.4 721.4,48.4 C724.8,48.4 726.8,50.6 726,55.4 C725.2,53 724.4,52.2 723,52 C720.6,52.8 718.4,52.6 717.4,52.8 C717,53.6 716.8,54.4 716.6,55.4Z" fill="#7b4a3a"/>
<rect x="719.9" y="59.4" width="2.6" height="3" fill="#f4ab92"/>
<circle cx="710.8" cy="89.4" r="1.7" fill="#f4ab92"/><circle cx="731.6" cy="89.4" r="1.7" fill="#f4ab92"/>
<path d="M715.2,84 L727.4,84 L727.8,116.6 L722.6,116.6 L721.3,92 L720,116.6 L714.8,116.6Z" fill="#174f8a"/>
<path d="M716.6,61.8 L725.8,61.8 C729.6,62.4 731.4,64 731.8,67.4 L733.6,87.6 L729.6,88.2 L728.2,74 L728.2,86.4 L714.4,86.4 L714.4,74 L713,88.2 L709,87.6 L710.8,67.4 C711.2,64 713,62.4 716.6,61.8Z" fill="#1b5c9e"/>
<path d="M718.4,61.6 L721.2,70.6 L724,61.6Z" fill="#fff"/>
<path d="M720.6,62.8 L721.8,62.8 L722.2,68.6 L721.2,70.2 L720.2,68.6Z" fill="#a9d9ee"/>
<path d="M711.8,121.7 C712,118.6 715,116.8 720.2,116.6 L720.2,121.7Z M722.4,121.7 L722.4,116.6 C727.6,116.8 730.6,118.6 730.8,121.7Z" fill="#1d1d22"/>
</g>
<g id="fig-60">
<path d="M754.8,57.4 C753.4,51.6 756.4,48 760.4,48 C764.4,48 767.4,51.6 766,57.4 C765.6,59.4 764.4,60 763.4,59.6 L757.4,59.6 C756.4,60 755.2,59.4 754.8,57.4Z" fill="#b5644a"/>
<ellipse cx="760.5" cy="55.4" rx="3.9" ry="4.5" fill="#f4ab92"/>
<path d="M756.4,54.6 C756.6,50.8 759,49.8 764.6,51.8 C764.8,53 764.7,54 764.6,54.8 C762,52.6 759,52.6 756.4,54.6Z" fill="#b5644a"/>
<rect x="759.3" y="58.8" width="2.4" height="3.4" fill="#f4ab92"/>
<path d="M752.6,69 L752.2,80 L752.8,85.4 M768.2,69 L768.6,80 L768,85.4" stroke="#f4ab92" stroke-width="1.8" stroke-linecap="round" stroke-linejoin="round" fill="none"/>
<path d="M757,114 L757.2,119.6 M763.8,114 L763.6,119.6" stroke="#f4ab92" stroke-width="1.9" fill="none"/>
<path d="M756.8,61.6 L759.2,61.2 L760.4,62.2 L761.6,61.2 L764,61.6 C767.4,62.2 769.6,64.4 770.2,69.6 L767,70.4 L766.6,79.8 L754.2,79.8 L753.8,70.4 L750.6,69.6 C751.2,64.4 753.4,62.2 756.8,61.6Z" fill="#d98cc6"/>
<path d="M760.4,63 L760.4,79" stroke="#f1c4e6" stroke-width="0.6" stroke-dasharray="0.8 1.4" fill="none"/>
<path d="M754.2,79.2 L766.6,79.2 L768.8,114.4 L761.6,114.4 L760.4,90 L759.2,114.4 L752,114.4Z" fill="#d2232a"/>
<path d="M754.4,121.7 C754.6,120 756.4,119.4 758.6,119.5 L758.6,121.7Z M762.2,121.7 L762.2,119.5 C764.4,119.4 766.2,120 766.4,121.7Z" fill="#e9b39a"/>
</g>
<g id="fig-65">
<path d="M816.8,90 C817,88.2 818.8,88.2 818.9,90 L819.7,121.6" stroke="#c98f8a" stroke-width="1.1" fill="none"/>
<path d="M788.4,108 L788.4,118.4 M793.8,108 L793.8,118.4" stroke="#b5705a" stroke-width="2.1" fill="none"/>
<path d="M785.6,121.4 C785.8,119 787.6,118 789.8,118 L789.8,121.4Z M792.4,121.4 L792.4,118 C794.6,118 796.4,119 796.6,121.4Z" fill="#7a4b3e"/>
<path d="M787.6,66 L795,66 C797.8,67.4 799.4,72 799.4,80 L799.6,100 C799.6,106 797.4,108.6 794.6,108.6 L787.6,108.6 C784.2,108.6 781.8,105 781.6,98 L782.4,78 C782.8,71 784.4,67.2 787.6,66Z" fill="#f6c983"/>
<path d="M783.6,76 L782.6,92 L783.6,97" stroke="#f3ba5e" stroke-width="1.6" fill="none"/>
<circle cx="783.8" cy="98.4" r="1.4" fill="#f4ab92"/>
<ellipse cx="791.3" cy="60.6" rx="3.8" ry="4.1" fill="#f4ab92"/>
<path d="M787,60.4 C786,55.6 788,52.6 791.2,52.4 C794.6,52.2 796.8,55.6 795.6,60.4 C794.6,57.8 793,57 791.3,57 C789.6,57 788,57.8 787,60.4Z" fill="#f3b3be"/>
<circle cx="791.3" cy="53.2" r="2.3" fill="#f6c3cb"/>
<path d="M788,60.6 L794.6,60.6" stroke="#6b4a3e" stroke-width="0.6" fill="none"/><circle cx="789.6" cy="60.8" r="1.1" fill="none" stroke="#6b4a3e" stroke-width="0.45"/><circle cx="793" cy="60.8" r="1.1" fill="none" stroke="#6b4a3e" stroke-width="0.45"/>
<path d="M786.6,64.4 C788,66.8 794.6,66.8 796,64.4 L796.6,67.6 C794,69.6 788.6,69.6 786,67.6Z" fill="#f0908a"/>
<path d="M800.2,87.6 L812.6,87.6 L812.4,118.4 L807.6,118.4 L806.4,94 L805.2,118.4 L800.4,118.4Z" fill="#7a4b3e"/>
<path d="M797.8,121.7 C798,119.2 800,118.2 805.4,118.2 L805.4,121.7Z M807.4,121.7 L807.4,118.2 C812.8,118.2 814.8,119.2 815,121.7Z" fill="#4e2f2b"/>
<path d="M802.2,65.2 L810,65.2 C813.4,65.8 815,68 815.4,72 L816.8,90.4 L813.8,91 L812.8,78 L812.8,88.4 L800,88.4 L800,78 L799,91 L796,90.4 L797,72 C797.4,68 799,65.8 802.2,65.2Z" fill="#fbe3b5"/>
<circle cx="797.6" cy="92" r="1.4" fill="#f4ab92"/><circle cx="815.4" cy="92" r="1.4" fill="#f4ab92"/>
<path d="M802.4,66 L802,88 M810,66 L810.6,88" stroke="#7a4b3e" stroke-width="0.8" fill="none"/>
<ellipse cx="806.1" cy="58.6" rx="3.9" ry="4.4" fill="#f4ab92"/>
<path d="M802,58 C801.4,53.6 803.4,51.7 806.2,51.7 C809,51.7 811,53.6 810.2,58 C809.4,55.8 808.2,55 806.1,55 C804,55 802.8,55.8 802,58Z" fill="#f2edea"/>
<path d="M802.4,59.6 C802.4,65.4 809.8,65.4 809.8,59.6 C808.6,61.6 803.6,61.6 802.4,59.6Z" fill="#f2edea"/>
<circle cx="804.4" cy="58" r="1.2" fill="none" stroke="#3b3135" stroke-width="0.5"/><circle cx="807.9" cy="58" r="1.2" fill="none" stroke="#3b3135" stroke-width="0.5"/>
<path d="M804.4,65.6 L806.1,66.6 L807.8,65.6 L807.8,67.8 L806.1,66.8 L804.4,67.8Z" fill="#7a4b3e"/>
</g>
<text x="31.20" y="539.70" font-size="4.40" font-weight="400" fill="#000" stroke="#000" stroke-width="0.14">*</text>
<text x="34.00" y="539.70" font-size="4.40" font-weight="400" fill="#000" textLength="237.50" lengthAdjust="spacingAndGlyphs" stroke="#000" stroke-width="0.14">En hijos de madre portadora de AgHBs e hijos de madre con serología desconocida se administrará vacuna VHB dentro de las 24 h</text>
<text x="34.00" y="544.70" font-size="4.40" font-weight="400" fill="#000" textLength="163.00" lengthAdjust="spacingAndGlyphs" stroke="#000" stroke-width="0.14">que siguen al nacimiento. En hijos de madre AgHBs positiva además se administrará Ig HB.</text>
<text x="31.20" y="551.80" font-size="4.40" font-weight="400" fill="#000" stroke="#000" stroke-width="0.14">**</text>
<text x="36.00" y="551.80" font-size="4.40" font-weight="400" fill="#000" textLength="235.50" lengthAdjust="spacingAndGlyphs" stroke="#000" stroke-width="0.14">Embarazada: Una dosis de dTpa a partir de la semana 27 de gestación (preferentemente en las semanas 27 o 28). En temporada de</text>
<text x="36.00" y="556.70" font-size="4.40" font-weight="400" fill="#000" textLength="130.00" lengthAdjust="spacingAndGlyphs" stroke="#000" stroke-width="0.14">gripe se vacunará a la embarazada en cualquier trimestre de la gestación.</text>
<text x="31.20" y="563.80" font-size="4.40" font-weight="400" fill="#000" stroke="#000" stroke-width="0.14">***</text>
<text x="37.60" y="563.80" font-size="4.40" font-weight="400" fill="#000" textLength="234.00" lengthAdjust="spacingAndGlyphs" stroke="#000" stroke-width="0.14">Vacunación frente a RV en lactantes a partir de las 6 semanas de vida. Fecha de inicio por definir. Pauta de dos o tres dosis en</text>
<text x="37.60" y="568.80" font-size="4.40" font-weight="400" fill="#000" textLength="62.00" lengthAdjust="spacingAndGlyphs" stroke="#000" stroke-width="0.14">función de la vacuna administrada.</text>
<rect x="31.2" y="575.8" width="10.4" height="8.7" fill="#f4824a"/>
<text x="32.40" y="581.30" font-size="3.40" font-weight="700" fill="#fff" textLength="8.00" lengthAdjust="spacingAndGlyphs">Color</text>
<text x="45.00" y="581.60" font-size="4.20" font-weight="400" fill="#000" textLength="52.60" lengthAdjust="spacingAndGlyphs" letter-spacing="0.3">Administración sistemática</text>
<rect x="107.5" y="575.8" width="10.4" height="8.7" fill="url(#h_orange)"/>
<rect x="108.7" y="576.8" width="8" height="6.7" fill="#fde9e0" opacity="0.75"/>
<text x="109.90" y="579.60" font-size="3.20" font-weight="700" fill="#222" textLength="5.60" lengthAdjust="spacingAndGlyphs">Con</text>
<text x="108.90" y="582.90" font-size="3.20" font-weight="700" fill="#222" textLength="7.60" lengthAdjust="spacingAndGlyphs">rayas</text>
<text x="121.00" y="581.60" font-size="4.20" font-weight="400" fill="#000" textLength="148.50" lengthAdjust="spacingAndGlyphs" letter-spacing="0.3">Administración en personas susceptibles o no vacunadas con anterioridad.</text>
<text x="282.40" y="540.10" font-size="4.40" font-weight="400" fill="#000" textLength="176.20" lengthAdjust="spacingAndGlyphs" stroke="#000" stroke-width="0.14">a) En personas no vacunadas con anterioridad se administrarán 3 dosis con pauta 0, 1 y 6 meses.</text>
<text x="282.40" y="546.04" font-size="4.40" font-weight="400" fill="#000" textLength="123.00" lengthAdjust="spacingAndGlyphs" stroke="#000" stroke-width="0.14">b) Los niños vacunados con pauta 3+1 recibirán dTpa de baja carga.</text>
<text x="282.40" y="551.98" font-size="4.40" font-weight="400" fill="#000" textLength="204.20" lengthAdjust="spacingAndGlyphs" stroke="#000" stroke-width="0.14">c) Vacunar o completar vacunación en caso de no tener administradas 5 dosis durante la infancia y adolescencia.</text>
<text x="282.40" y="557.92" font-size="4.40" font-weight="400" fill="#000" textLength="224.50" lengthAdjust="spacingAndGlyphs" stroke="#000" stroke-width="0.14">d) A partir del 1 de enero de 2023, se incluye la vacunación sistemática para los nacidos a partir del 1 de noviembre de 2022.</text>
<text x="282.40" y="563.86" font-size="4.40" font-weight="400" fill="#000" textLength="161.80" lengthAdjust="spacingAndGlyphs" stroke="#000" stroke-width="0.14">e) Se administrará 1 dosis en las personas no vacunadas a partir de los 10 años de edad.</text>
<text x="282.40" y="569.80" font-size="4.40" font-weight="400" fill="#000" textLength="79.00" lengthAdjust="spacingAndGlyphs" stroke="#000" stroke-width="0.14">f) Vacunar con vacuna tetravírica (TV+VVZ).</text>
<text x="282.40" y="575.74" font-size="4.40" font-weight="400" fill="#000" textLength="205.50" lengthAdjust="spacingAndGlyphs" stroke="#000" stroke-width="0.14">g) Vacunar con 2 dosis, separadas al menos 4 semanas, a los nacidos a partir de 1970 sin historia de vacunación.</text>
<text x="282.40" y="581.68" font-size="4.40" font-weight="400" fill="#000" textLength="204.20" lengthAdjust="spacingAndGlyphs" stroke="#000" stroke-width="0.14">h) Vacunar con 2 dosis, separadas al menos 4 semanas, a las personas que no tengan constancia de inmunidad.</text>
<text x="526.30" y="539.80" font-size="4.40" font-weight="400" fill="#000" textLength="241.50" lengthAdjust="spacingAndGlyphs" stroke="#000" stroke-width="0.14">i) A partir del 1 de enero de 2023, se amplía la vacunación sistemática a los niños nacidos a partir de 2011 cuando cumplan los 12 años</text>
<text x="530.10" y="544.60" font-size="4.40" font-weight="400" fill="#000" textLength="153.00" lengthAdjust="spacingAndGlyphs" stroke="#000" stroke-width="0.14">de edad. Se administrarán dos dosis, para niños y niñas, separaradas al menos 6 meses.</text>
<text x="526.30" y="550.60" font-size="4.40" font-weight="400" fill="#000" textLength="241.50" lengthAdjust="spacingAndGlyphs" stroke="#000" stroke-width="0.14">j) Vacunar a las mujeres hasta los 18 años no vacunadas con anterioridad y a los varones nacidos a partir del 1 de enero de 2011 y que</text>
<text x="530.10" y="555.30" font-size="4.40" font-weight="400" fill="#000" textLength="148.00" lengthAdjust="spacingAndGlyphs" stroke="#000" stroke-width="0.14">hayan cumplido 12 años de edad no vacunados con anterioridad. Pauta de 2 dosis.</text>
<text x="526.30" y="561.20" font-size="4.40" font-weight="400" fill="#000" textLength="241.50" lengthAdjust="spacingAndGlyphs" stroke="#000" stroke-width="0.14">k) Vacunar a los 65 años de edad (nacidos en 1959) con 2 dosis, separadas 2 meses. Durante el año 2024 además se vacunará a</text>
<text x="531.30" y="565.80" font-size="4.40" font-weight="400" fill="#000" textLength="236.50" lengthAdjust="spacingAndGlyphs" stroke="#000" stroke-width="0.14">las personas de 75 años de edad (nacidos en 1949), así como a las personas nacidas en 1943-1948 y 1957-1958 no vacunadas</text>
<text x="531.30" y="570.40" font-size="4.40" font-weight="400" fill="#000" textLength="30.00" lengthAdjust="spacingAndGlyphs" stroke="#000" stroke-width="0.14">con anterioridad.</text>
<text x="526.30" y="576.50" font-size="4.40" font-weight="400" fill="#000" textLength="182.50" lengthAdjust="spacingAndGlyphs" stroke="#000" stroke-width="0.14">l) Las recomendaciones de vacunación se definirán previamente al inicio de la temporada 2024-2025.</text>
<rect x="783.3" y="533.9" width="34" height="34" fill="#e8141f"/>
<polygon points="789.60,545.50 790.33,547.60 792.55,547.64 790.78,548.98 791.42,551.11 789.60,549.84 787.78,551.11 788.42,548.98 786.65,547.64 788.87,547.60" fill="#fff"/>
<polygon points="796.70,545.50 797.43,547.60 799.65,547.64 797.88,548.98 798.52,551.11 796.70,549.84 794.88,551.11 795.52,548.98 793.75,547.64 795.97,547.60" fill="#fff"/>
<polygon points="803.70,545.50 804.43,547.60 806.65,547.64 804.88,548.98 805.52,551.11 803.70,549.84 801.88,551.11 802.52,548.98 800.75,547.64 802.97,547.60" fill="#fff"/>
<polygon points="810.80,545.50 811.53,547.60 813.75,547.64 811.98,548.98 812.62,551.11 810.80,549.84 808.98,551.11 809.62,548.98 807.85,547.64 810.07,547.60" fill="#fff"/>
<polygon points="793.30,550.50 794.03,552.60 796.25,552.64 794.48,553.98 795.12,556.11 793.30,554.84 791.48,556.11 792.12,553.98 790.35,552.64 792.57,552.60" fill="#fff"/>
<polygon points="800.30,550.50 801.03,552.60 803.25,552.64 801.48,553.98 802.12,556.11 800.30,554.84 798.48,556.11 799.12,553.98 797.35,552.64 799.57,552.60" fill="#fff"/>
<polygon points="807.40,550.50 808.13,552.60 810.35,552.64 808.58,553.98 809.22,556.11 807.40,554.84 805.58,556.11 806.22,553.98 804.45,552.64 806.67,552.60" fill="#fff"/>
<text x="783.30" y="575.40" font-size="6.20" font-weight="700" fill="#111" textLength="34.00" lengthAdjust="spacingAndGlyphs" stroke="#111" stroke-width="0.25">Comunidad</text>
<text x="783.30" y="582.00" font-size="6.20" font-weight="700" fill="#111" textLength="34.00" lengthAdjust="spacingAndGlyphs" stroke="#111" stroke-width="0.25">de Madrid</text>
<text transform="translate(23.2,585.3) rotate(-90)" font-size="3.9" font-weight="700" fill="#000" stroke="#000" stroke-width="0.08" textLength="281" lengthAdjust="spacingAndGlyphs">BVSa Dirección General de Salud Pública - Consejería de Sanidad - Imprime: BOCM - Tirada: 3.000 ejemplares - Abril/2024 - D.L.: M-9467-2024 - Impreso en España - Printed in Spain</text>
</svg></body></html>
